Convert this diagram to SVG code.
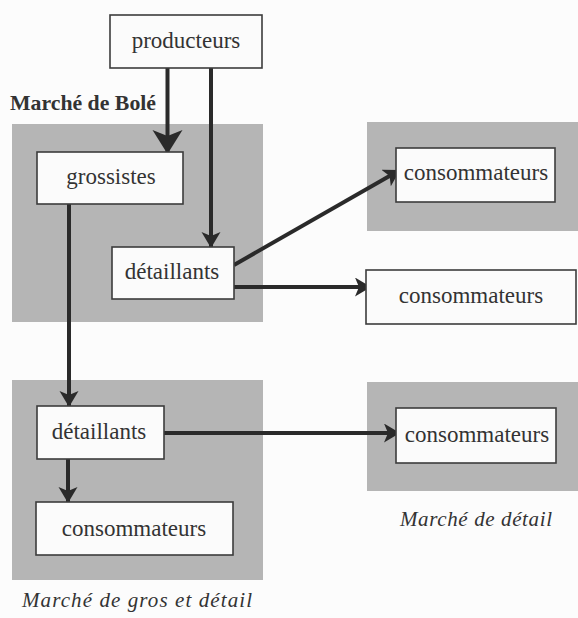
<svg xmlns="http://www.w3.org/2000/svg" width="578" height="618" viewBox="0 0 578 618">
<style>
.bg{fill:#fcfcfc}
.zone{fill:#b5b5b5}
.box{fill:#fbfbfb;stroke:#3c3c3c;stroke-width:1.6}
.t{font-family:"Liberation Serif","Times New Roman",serif;font-size:23px;fill:#333;text-anchor:middle}
.lbl{font-family:"Liberation Serif","Times New Roman",serif;font-size:21px;fill:#333}
.c{stroke:#2a2a2a;fill:none;stroke-width:4}
</style>
<defs>
<marker id="ah" markerUnits="userSpaceOnUse" markerWidth="17" markerHeight="20" refX="16" refY="9.5" orient="auto">
<path d="M0,0 L16,9.5 L0,19 L4,9.5 z" fill="#2a2a2a"/>
</marker>
<marker id="ahb" markerUnits="userSpaceOnUse" markerWidth="25" markerHeight="31" refX="24" refY="15" orient="auto">
<path d="M0,0 L24,15 L0,30 L6,15 z" fill="#2a2a2a"/>
</marker>
</defs>
<rect class="bg" x="0" y="0" width="578" height="618"/>
<g id="zones">
<rect class="zone" x="12" y="124" width="251" height="198"/>
<rect class="zone" x="12" y="380" width="251" height="200"/>
<rect class="zone" x="367" y="122" width="211" height="109"/>
<rect class="zone" x="367" y="382" width="211" height="109"/>
</g>
<g id="labels">
<text class="lbl" x="10" y="110" font-weight="bold" textLength="146" lengthAdjust="spacingAndGlyphs">Marché de Bolé</text>
<text class="lbl" x="22" y="607" font-style="italic" textLength="230" lengthAdjust="spacing">Marché de gros et détail</text>
<text class="lbl" x="400" y="526" font-style="italic" textLength="152" lengthAdjust="spacing">Marché de détail</text>
</g>
<g id="connectors">
<line class="c" x1="167.5" y1="68" x2="167.5" y2="154" stroke-width="9" marker-end="url(#ahb)"/>
<line class="c" x1="211" y1="68" x2="211" y2="248" marker-end="url(#ah)"/>
<line class="c" x1="69" y1="204" x2="69" y2="407" marker-end="url(#ah)"/>
<line class="c" x1="234" y1="265" x2="400" y2="170" marker-end="url(#ah)"/>
<line class="c" x1="234" y1="287" x2="371" y2="287" marker-end="url(#ah)"/>
<line class="c" x1="164" y1="433" x2="400" y2="433" marker-end="url(#ah)"/>
<line class="c" x1="68" y1="459" x2="68" y2="503" marker-end="url(#ah)"/>
</g>
<g id="producteurs">
<rect class="box" x="110" y="15" width="152" height="53"/>
<text class="t" x="186" y="48">producteurs</text>
</g>
<g id="grossistes">
<rect class="box" x="37" y="152" width="146" height="52"/>
<text class="t" x="111" y="184">grossistes</text>
</g>
<g id="detaillants1">
<rect class="box" x="112" y="247" width="122" height="52"/>
<text class="t" x="172" y="279">détaillants</text>
</g>
<g id="consommateurs1">
<rect class="box" x="396" y="148" width="159" height="54"/>
<text class="t" x="476" y="180">consommateurs</text>
</g>
<g id="consommateurs2">
<rect class="box" x="366" y="270" width="210" height="54"/>
<text class="t" x="471" y="303">consommateurs</text>
</g>
<g id="detaillants2">
<rect class="box" x="37" y="406" width="127" height="53"/>
<text class="t" x="99" y="439">détaillants</text>
</g>
<g id="consommateurs3">
<rect class="box" x="36" y="502" width="197" height="53"/>
<text class="t" x="134" y="536">consommateurs</text>
</g>
<g id="consommateurs4">
<rect class="box" x="396" y="408" width="160" height="55"/>
<text class="t" x="477" y="442">consommateurs</text>
</g>
</svg>
